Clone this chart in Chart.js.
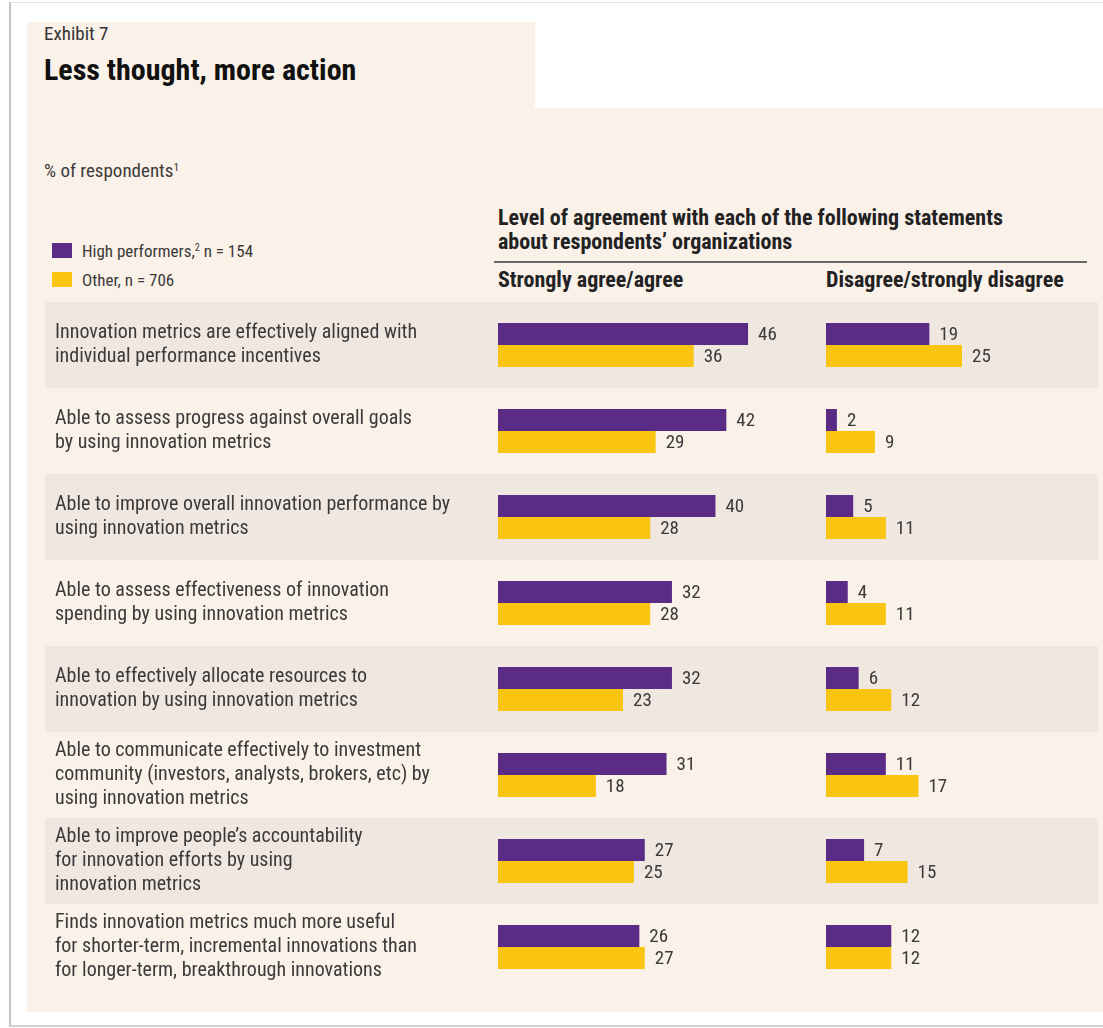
<!DOCTYPE html>
<html lang="en">
<head>
<meta charset="UTF-8">
<title>Less thought, more action</title>
<script src="https://cdn.jsdelivr.net/npm/chart.js"></script>
<style>
  body { margin: 0; background: #fff; width: 1103px; height: 1028px; position: relative; overflow: hidden;
         font-family: "Roboto Condensed", "Open Sans Condensed", sans-serif; color: #3a3a3a; }
  .frame { position: absolute; left: 9px; top: 2px; width: 1100px; height: 1022px;
           border-left: 2px solid #c4c4c4; border-top: 1px solid #e2e2e2; border-bottom: 2px solid #d0d0d0; }
  .beige { position: absolute; background: #faf1e9; }
  .txt { position: absolute; white-space: nowrap; }
  .sw { position: absolute; width: 20px; height: 15px; }
  sup { font-size: 60%; vertical-align: 0; position: relative; top: -0.55em; }
  canvas { position: absolute; }
</style>
</head>
<body>
<div class="frame"></div>
<div class="beige" style="left:27px; top:22px; width:508px; height:90px;"></div>
<div class="beige" style="left:27px; top:108px; width:1076px; height:904px;"></div>

<div class="txt" style="left:44px; top:22px; font-size:19px; color:#333;">Exhibit 7</div>
<div class="txt" style="left:44px; top:52px; font-size:30px; font-weight:bold; color:#111;">Less thought, more action</div>
<div class="txt" style="left:44px; top:159px; font-size:19px;">% of respondents<sup>1</sup></div>

<div class="sw" style="left:52px; top:243px; background:#5b2c86;"></div>
<div class="txt" style="left:82px; top:241px; font-size:17px;">High performers,<sup>2</sup> n = 154</div>
<div class="sw" style="left:52px; top:272px; background:#f9c510;"></div>
<div class="txt" style="left:82px; top:270px; font-size:17px;">Other, n = 706</div>

<div class="txt" style="left:498px; top:206px; font-size:22px; font-weight:bold; color:#222; line-height:24px;">Level of agreement with each of the following statements<br>about respondents’ organizations</div>
<div style="position:absolute; left:494px; top:261px; width:593px; height:2px; background:#666;"></div>
<div class="txt" style="left:498px; top:267px; font-size:22px; font-weight:bold; color:#222;">Strongly agree/agree</div>
<div class="txt" style="left:826px; top:267px; font-size:22px; font-weight:bold; color:#222;">Disagree/strongly disagree</div>

<canvas id="agreeChart" style="left:45px; top:302px;" width="1053" height="688"></canvas>
<canvas id="disagreeChart" style="left:826px; top:302px;" width="272" height="688"></canvas>

<script>
const statements = [
  ['Innovation metrics are effectively aligned with', 'individual performance incentives'],
  ['Able to assess progress against overall goals', 'by using innovation metrics'],
  ['Able to improve overall innovation performance by', 'using innovation metrics'],
  ['Able to assess effectiveness of innovation', 'spending by using innovation metrics'],
  ['Able to effectively allocate resources to', 'innovation by using innovation metrics'],
  ['Able to communicate effectively to investment', 'community (investors, analysts, brokers, etc) by', 'using innovation metrics'],
  ['Able to improve people’s accountability', 'for innovation efforts by using', 'innovation metrics'],
  ['Finds innovation metrics much more useful', 'for shorter-term, incremental innovations than', 'for longer-term, breakthrough innovations']
];
const seriesNames = ['High performers, n = 154', 'Other, n = 706'];
const agreeHigh = [46, 42, 40, 32, 32, 31, 27, 26];
const agreeOther = [36, 29, 28, 28, 23, 18, 25, 27];
const disagreeHigh = [19, 2, 5, 4, 6, 11, 7, 12];
const disagreeOther = [25, 9, 11, 11, 12, 17, 15, 12];

const PURPLE = '#5b2c86';
const YELLOW = '#f9c510';
const FONT = '"Roboto Condensed", "Open Sans Condensed", sans-serif';

Chart.defaults.font.family = FONT;
Chart.defaults.color = '#3a3a3a';

// shaded band behind every other row, across the whole canvas
const rowBands = {
  id: 'rowBands',
  beforeDraw(chart) {
    const ctx = chart.ctx;
    const y = chart.scales.y;
    const step = (y.bottom - y.top) / statements.length;
    ctx.save();
    ctx.fillStyle = '#f0e7e1';
    for (let i = 0; i < statements.length; i += 2) {
      const c = y.getPixelForValue(i);
      ctx.fillRect(0, c - step / 2, chart.width, step);
    }
    ctx.restore();
  }
};

// value next to the end of each bar
const valueLabels = {
  id: 'valueLabels',
  afterDatasetsDraw(chart) {
    const ctx = chart.ctx;
    ctx.save();
    ctx.font = '19px ' + FONT;
    ctx.fillStyle = '#3a3a3a';
    ctx.textBaseline = 'middle';
    ctx.textAlign = 'left';
    chart.data.datasets.forEach((ds, di) => {
      chart.getDatasetMeta(di).data.forEach((bar, i) => {
        ctx.fillText(ds.data[i], bar.x + 10, bar.y + 1);
      });
    });
    ctx.restore();
  }
};

function makeChart(id, high, other, xMax, showLabels, padRight) {
  return new Chart(document.getElementById(id), {
    type: 'bar',
    data: {
      labels: statements,
      datasets: [
        { label: seriesNames[0], data: high, backgroundColor: PURPLE },
        { label: seriesNames[1], data: other, backgroundColor: YELLOW }
      ]
    },
    options: {
      indexAxis: 'y',
      responsive: false,
      animation: false,
      layout: { autoPadding: false, padding: { left: showLabels ? 10 : 0, right: padRight, top: 0, bottom: 0 } },
      datasets: { bar: { categoryPercentage: 0.512, barPercentage: 1 } },
      plugins: { legend: { display: false }, tooltip: { enabled: false } },
      scales: {
        x: { display: false, min: 0, max: xMax },
        y: {
          display: showLabels,
          grid: { display: false, drawTicks: false },
          border: { display: false },
          ticks: { crossAlign: 'far', padding: 0, color: '#3a3a3a',
                   font: { size: 20, lineHeight: 1.2 } },
          afterFit(axis) {
            if (showLabels) axis.width = 443;
            axis.paddingTop = 0;
            axis.paddingBottom = 0;
          }
        }
      }
    },
    plugins: showLabels ? [rowBands, valueLabels] : [valueLabels]
  });
}

makeChart('agreeChart', agreeHigh, agreeOther, 55, true, 301);
makeChart('disagreeChart', disagreeHigh, disagreeOther, 50, false, 0);
</script>
</body>
</html>
